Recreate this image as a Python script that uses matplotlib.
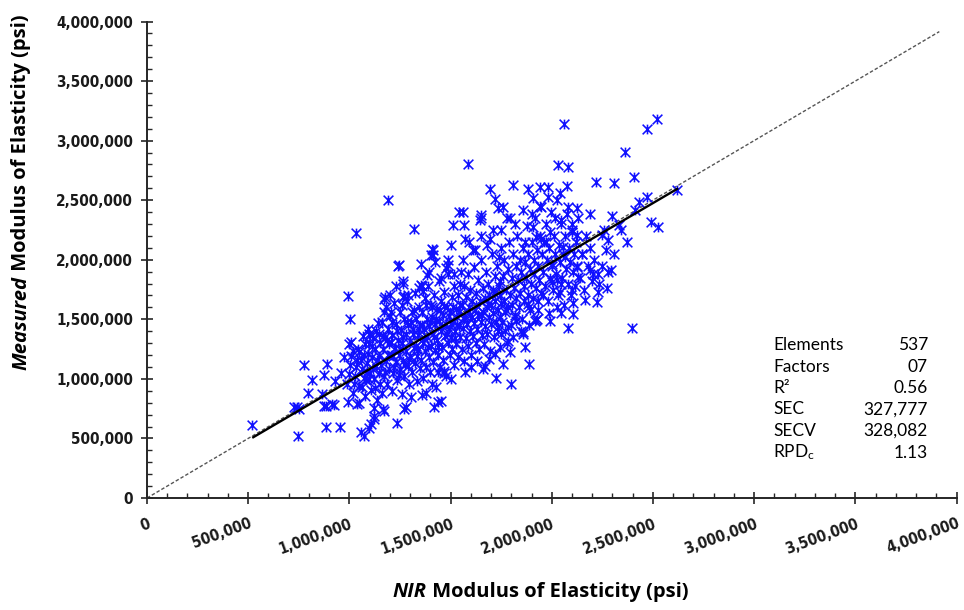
import matplotlib
matplotlib.use("Agg")
import matplotlib.pyplot as plt
import numpy as np
from matplotlib.path import Path
from matplotlib.ticker import MultipleLocator, FuncFormatter
from matplotlib import font_manager

plt.rcParams['mathtext.fontset'] = 'custom'
plt.rcParams['mathtext.rm'] = 'Lato'
plt.rcParams['mathtext.it'] = 'Lato:italic'
plt.rcParams['mathtext.bf'] = 'Lato:bold'

# ---------------- data (values in thousands of psi: NIR, Measured) ----------------
sparse_upper_left = [(1190,2501),(1035,2225),(1319,2262),(1511,2290),(1543,2402),(1410,2088),(1415,2040),
    (1503,2128),(1240,1948),(1263,1819),(1356,1968),(1384,1869),(1357,1777),(1478,1934),(1488,1996),
    (995,1695),(1175,1687),(1268,1695),(1652,2374),(1643,2332),(1412,2080),(1404,2038),(1246,1953),
    (1561,2402),(1566,2290),(1569,2178),(1610,2080),(1586,2804),(1648,2353)]

sparse_lower_left = [(519,615),(747,519),(886,592),(952,600),(1056,550),(1072,522),(1096,590),(1106,620),
    (1233,626),(1420,766),(1436,802),(1280,760),(1172,727),(1124,755),(1359,865),(741,766),(726,760),
    (750,750),(775,1117),(813,993),(797,878),(891,1126),(875,1033),(928,985),(883,775),(916,789),
    (866,873),(1003,1501),(999,1294),(1048,1223),(1098,1378),(995,802),(1048,794),(1123,690),(1164,747),
    (1272,747),(1304,845),(1263,1799),(1354,1785),(1172,1672),(1263,1687),(1205,1560),(873,775),
    (923,783),(1040,791),(1121,665)]

sparse_right = [(2063,3141),(2520,3180),(2473,3099),(2362,2902),(2032,2793),(2078,2776),(2219,2655),
    (2306,2641),(2407,2692),(2619,2585),(2470,2523),(2429,2487),(2413,2417),(2491,2313),(2525,2276),
    (2296,2366),(2330,2290),(2280,2164),(2247,2206),(2189,2383),(2293,1917),(2396,1429),(2078,1429),
    (2230,1729),(2222,1644),(2164,1659),(2106,1636),(2027,1602),(1990,1490),(1924,1496),(1858,1392),
    (1809,2627),(1693,2591),(1883,2593),(1941,2613),(1979,2608),(1979,2523),(2040,2562),(2073,2619),
    (1908,2515),(1949,2439),(1718,2507),(1734,2431),(1759,2444),(1793,2353),(2081,2444),(2123,2431),
    (2015,2353),(2048,2332),(2098,2304),(2098,2234),(2123,2206),(1990,2234),(1949,2178),(1974,2150),
    (1908,2276),(1924,2193),(1866,2150),(1751,2248),(1693,2178),(2057,2108),(2065,2023),(2148,2051),
    (2189,1917),(2205,1884),(2123,1939),(2131,1855),(2024,1827),(2048,1799),(1999,1813),(2098,1743),
    (2040,1729),(1999,1968),(1958,1701),(1883,1631),(1891,1575),(1932,1575),(1817,1518),(1776,1575),
    (1734,1434),(1784,1434),(2106,1544),(2280,1897),(1917,1490),(1858,1378),(1866,1266),(1886,1126),
    (1800,957),(1726,1008),(1668,1111),(1759,1126),(1793,1223),(1743,1266),(1784,1322),(1503,1000),
    (1470,1069),(1453,817),(1751,1378),(1825,1490)]

core_a = [(960,1050),(975,1180),(990,960),(1005,1120),(1010,1310),(1020,880),(1030,1020),(1040,1160),
    (1045,1250),(1050,940),(1060,1080),(1065,1360),(1070,1200),(1075,860),(1080,990),(1085,1130),
    (1090,1420),(1095,1290),(1100,1050),(1105,910),(1110,1180),(1115,1340),(1120,1000),(1125,1250),
    (1130,1110),(1135,820),(1140,1470),(1145,1190),(1150,960),(1150,1300),(1000,1040),(1020,1230),
    (1035,1100),(1055,1160),(1070,1010),(1090,1210),(1100,1370),(1118,1080),(1130,1400),(1145,1050),
    (1008,1190),(1062,930),(1088,1060),(1112,1280),(1138,1160),(1148,1380),(1025,960),(1078,1290),
    (1098,1000),(1128,920)]

core_b = [(1155,1120),(1160,1480),(1162,880),(1168,1250),(1172,1020),(1175,1350),(1180,1600),(1183,1150),
    (1188,960),(1190,1420),(1195,1290),(1198,1080),(1202,1530),(1205,1200),(1210,900),(1213,1370),
    (1218,1050),(1220,1640),(1225,1260),(1228,1140),(1232,1460),(1235,990),(1240,1330),(1243,1200),
    (1248,1560),(1250,1080),(1255,1410),(1258,870),(1262,1300),(1265,1150),(1270,1500),(1272,1020),
    (1278,1380),(1280,1230),(1285,1650),(1288,1110),(1292,1450),(1295,960),(1300,1320),(1302,1190),
    (1308,1560),(1310,1060),(1315,1420),(1318,1260),(1322,1720),(1325,1130),(1330,1500),(1332,980),
    (1338,1370),(1340,1240),(1345,1600),(1348,1090),(1350,1450),(1165,1360),(1178,1060),(1192,1200),
    (1207,1310),(1222,1100),(1237,1400),(1252,1250),(1267,1350),(1283,1480),(1297,1170),(1312,1380),
    (1327,1280),(1342,1420),(1170,1560),(1200,1700),(1230,1780),(1260,1620),(1290,1700),(1320,1580),
    (1345,1760),(1185,1330),(1215,1190),(1245,1030),(1275,1120),(1305,1480),(1335,1190),(1212,1480)]

core_c = [(1355,1160),(1358,1560),(1362,1300),(1365,1010),(1368,1420),(1372,1680),(1375,1230),(1378,1100),
    (1382,1500),(1385,1350),(1388,1780),(1392,1180),(1395,1440),(1398,1060),(1402,1620),(1405,1280),
    (1408,1520),(1412,1140),(1415,1380),(1418,1700),(1422,1240),(1425,1460),(1428,930),(1432,1590),
    (1435,1330),(1438,1200),(1442,1820),(1445,1490),(1448,1100),(1452,1400),(1455,1650),(1458,1270),
    (1462,1540),(1465,1160),(1468,1730),(1472,1360),(1475,1460),(1478,1020),(1482,1600),(1485,1300),
    (1488,1880),(1492,1420),(1495,1200),(1498,1560),(1502,1350),(1505,1690),(1508,1250),(1512,1480),
    (1515,1120),(1518,1780),(1522,1400),(1525,1590),(1528,1290),(1532,1520),(1535,1700),(1538,1180),
    (1542,1440),(1545,1620),(1548,1350),(1550,1900),(1360,1450),(1370,1340),(1380,1620),(1390,1270),
    (1400,1480),(1410,1600),(1420,1350),(1430,1500),(1440,1270),(1450,1580),(1460,1440),(1470,1610),
    (1480,1380),(1490,1530),(1500,1460),(1510,1600),(1520,1340),(1530,1450),(1540,1560),(1365,1740),
    (1395,1900),(1425,1980),(1455,1850),(1485,1960),(1515,1880),(1545,1800),(1377,880),(1407,960),
    (1437,1060),(1467,1050)]

core_d = [(1555,1250),(1558,1620),(1562,1430),(1565,1780),(1568,1150),(1572,1530),(1575,1340),(1578,1690),
    (1582,1460),(1585,1880),(1588,1280),(1592,1600),(1595,1400),(1598,1750),(1602,1200),(1605,1520),
    (1608,1650),(1612,1360),(1615,1940),(1618,1470),(1622,1580),(1625,1300),(1628,1720),(1632,1420),
    (1635,1830),(1638,1540),(1642,1250),(1645,1650),(1648,1480),(1652,2000),(1655,1370),(1658,1760),
    (1662,1560),(1665,1290),(1668,1680),(1672,1440),(1675,1900),(1678,1600),(1682,1380),(1685,1800),
    (1688,1520),(1692,1700),(1695,1230),(1698,1620),(1702,1460),(1705,2050),(1708,1750),(1712,1550),
    (1715,1350),(1718,1860),(1722,1650),(1725,1480),(1728,1950),(1732,1580),(1735,1400),(1738,1780),
    (1742,1700),(1745,1520),(1748,2100),(1750,1640),(1560,2000),(1590,2150),(1620,2080),(1650,2200),
    (1680,2120),(1710,2250),(1740,2020),(1570,1060),(1600,1100),(1630,1150),(1660,1080),(1690,1170),
    (1720,1210),(1565,1500),(1595,1540),(1625,1620),(1655,1540),(1685,1630),(1715,1720),(1745,1820)]

core_e = [(1755,1480),(1758,1860),(1762,1650),(1765,2000),(1770,1560),(1773,1750),(1778,1300),(1782,1920),
    (1785,1600),(1790,2150),(1793,1700),(1798,1450),(1802,1850),(1805,1620),(1810,2050),(1813,1760),
    (1818,1540),(1822,1950),(1825,1680),(1830,2200),(1833,1830),(1838,1600),(1842,2000),(1845,1720),
    (1850,1900),(1853,1500),(1858,2100),(1862,1780),(1865,1650),(1870,1980),(1873,1850),(1878,2280),
    (1882,1700),(1885,2050),(1890,1600),(1893,1920),(1898,1800),(1902,2150),(1905,1680),(1910,2000),
    (1913,1880),(1918,2350),(1922,1760),(1925,2080),(1930,1650),(1933,1950),(1938,1830),(1942,2200),
    (1945,1720),(1950,2050),(1768,1400),(1808,1350),(1848,1400),(1888,1450),(1928,1500),(1780,2350),
    (1820,2300),(1860,2420),(1900,2380),(1940,2450)]

core_f = [(1955,1900),(1960,2150),(1965,1780),(1970,2300),(1975,2000),(1980,1650),(1985,2100),(1990,1850),
    (1995,2400),(2000,1950),(2005,1750),(2010,2200),(2015,2050),(2020,1880),(2025,2500),(2030,1700),
    (2035,2120),(2040,1980),(2045,2300),(2050,1850),(2055,2050),(2060,1620),(2065,2200),(2070,1920),
    (2075,2380),(2080,1800),(2085,2100),(2090,1980),(2095,1700),(2100,2250),(2105,1900),(2110,2050),
    (2115,1780),(2120,2150),(2125,1950),(2130,2350),(2140,1850),(2150,2050),(2160,1750),(2170,2200),
    (2180,1950),(2190,2100),(2200,1820),(1985,1550),(2045,1550)]

core_g = [(2210,2000),(2230,1880),(2250,1950),(2260,2250),(2270,2080),(2310,2050),(2340,2250),(2370,2150),
    (2235,1800),(2275,1760)]

# regression (fit) line and 1:1 line endpoints, thousands of psi
fit_x = [520, 2625]
fit_y = [505, 2600]
one_to_one_x = [0, 3915]
one_to_one_y = [0, 3915]

stat_names = ['Elements', 'Factors', 'R²', 'SEC', 'SECV', r'RPD$_\mathrm{c}$']
stat_values = ['537', '07', '0.56', '327,777', '328,082', '1.13']

# ---------------- figure ----------------
groups = [sparse_upper_left, sparse_lower_left, sparse_right,
          core_a, core_b, core_c, core_d, core_e, core_f, core_g]
pts = [p for g in groups for p in g]
nir = np.array([p[0] for p in pts], dtype=float) * 1000
meas = np.array([p[1] for p in pts], dtype=float) * 1000

W, H = 964, 610
fig = plt.figure(figsize=(W / 100, H / 100), dpi=100, facecolor='white')
L, R, T, B = 147, 956.5, 21.5, 498
ax = fig.add_axes([L / W, 1 - B / H, (R - L) / W, (B - T) / H])

ax.plot(np.array(one_to_one_x) * 1000, np.array(one_to_one_y) * 1000,
        color='#555555', lw=1.0, ls=(0, (2.5, 1.5)), zorder=1)

verts = [(-1, -1), (1, 1), (-1, 1), (1, -1), (0, -1), (0, 1)]
codes = [Path.MOVETO, Path.LINETO, Path.MOVETO, Path.LINETO, Path.MOVETO, Path.LINETO]
star = Path(verts, codes)
ax.plot(nir, meas, ls='none', marker=star, ms=7.0, mec='#1010FF', mfc='none', mew=1.15, zorder=2)

ax.plot(np.array(fit_x) * 1000, np.array(fit_y) * 1000, color='black', lw=1.7,
        solid_capstyle='butt', zorder=3)

ax.set_xlim(0, 4e6)
ax.set_ylim(0, 4e6)
for s in ['top', 'right']:
    ax.spines[s].set_visible(False)
for s in ['left', 'bottom']:
    ax.spines[s].set_color('#262626')
    ax.spines[s].set_linewidth(1.4)

fmt = FuncFormatter(lambda v, p: f'{int(round(v)):,}')
for axis in (ax.xaxis, ax.yaxis):
    axis.set_major_locator(MultipleLocator(500000))
    axis.set_minor_locator(MultipleLocator(100000))
    axis.set_major_formatter(fmt)

ax.tick_params(which='major', direction='inout', length=8, width=1.2, color='#262626')
ax.tick_params(which='minor', direction='in', length=3.6, width=1.0, color='#262626')
ax.tick_params(axis='x', which='major', pad=9)
ax.tick_params(axis='y', which='major', pad=6)

# tick label font: condensed bold sans if available
tick_family = 'DejaVu Sans'
tick_size = 10.2
tick_stretch = 'normal'
cond = [f for f in font_manager.fontManager.ttflist
        if f.name.startswith('DejaVu Sans') and 'ondensed' in (f.fname + f.name) and f.weight in (700, 'bold')]
if cond:
    tick_family = cond[0].name
    tick_size = 11
    tick_stretch = cond[0].stretch

for lbl in ax.get_xticklabels():
    lbl.set_rotation(20)
    lbl.set_ha('right')
    lbl.set_va('top')
    lbl.set_rotation_mode('anchor')
for lbl in ax.get_xticklabels() + ax.get_yticklabels():
    lbl.set_fontfamily(tick_family)
    lbl.set_fontstretch(tick_stretch)
    lbl.set_fontweight('bold')
    lbl.set_fontsize(tick_size)
    lbl.set_color('#1a1a1a')

# axis labels (italic first word), centred by measuring
lab_fam = 'Open Sans'
lab_kw = dict(family=lab_fam, fontweight='bold', fontsize=14.5, color='black')
renderer = fig.canvas.get_renderer()

x1 = fig.text(0, 0, 'NIR', fontstyle='italic', ha='left', va='baseline', **lab_kw)
x2 = fig.text(0, 0, ' Modulus of Elasticity (psi)', ha='left', va='baseline', **lab_kw)
w1 = x1.get_window_extent(renderer).width
w2 = x2.get_window_extent(renderer).width
cx, by = 540.5, 597
start = cx - (w1 + w2) / 2
x1.set_position((start / W, 1 - by / H))
x2.set_position(((start + w1) / W, 1 - by / H))

y1 = fig.text(0, 0, 'Measured', fontstyle='italic', rotation=90, ha='left', va='bottom',
              rotation_mode='anchor', **lab_kw)
y2 = fig.text(0, 0, ' Modulus of Elasticity (psi)', rotation=90, ha='left', va='bottom',
              rotation_mode='anchor', **lab_kw)
h1 = y1.get_window_extent(renderer).height
h2 = y2.get_window_extent(renderer).height
cy, bx = 192, 31
ystart = cy + (h1 + h2) / 2      # pixel from top where text starts (bottom)
y1.set_position((bx / W, 1 - ystart / H))
y2.set_position((bx / W, 1 - (ystart - h1) / H))

# statistics block
for i, (n, v) in enumerate(zip(stat_names, stat_values)):
    y = 1 - (345 + i * 21.5) / H
    fig.text(773 / W, y, n, family='Lato', fontsize=12.5, ha='left', va='center', color='black')
    fig.text(928 / W, y, v, family='Lato', fontsize=12.5, ha='right', va='center', color='black')

fig.savefig('out.png', dpi=100, facecolor='white')
